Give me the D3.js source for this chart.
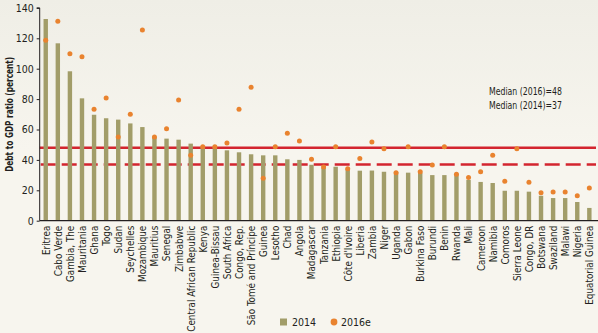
<!DOCTYPE html>
<html>
<head>
<meta charset="utf-8">
<script src="https://cdn.jsdelivr.net/npm/d3@7"></script>
<style>
  html, body { margin: 0; padding: 0; background: #f6f4ed; }
  svg { display: block; }
  text { font-family: "Liberation Sans Narrow", "DejaVu Sans Condensed", "Roboto", sans-serif; fill: #231f20; }
</style>
</head>
<body>
<svg id="chart" width="598" height="333"></svg>
<script>
// Sub-Saharan Africa: public debt to GDP, 2014 vs 2016 estimate
const countries = [
  "Eritrea", "Cabo Verde", "Gambia, The", "Mauritania", "Ghana", "Togo", "Sudan",
  "Seychelles", "Mozambique", "Mauritius", "Senegal", "Zimbabwe",
  "Central African Republic", "Kenya", "Guinea-Bissau", "South Africa", "Congo, Rep.",
  "São Tomé and Príncipe", "Guinea", "Lesotho", "Chad", "Angola", "Madagascar",
  "Tanzania", "Ethiopia", "Côte d'Ivoire", "Liberia", "Zambia", "Niger", "Uganda",
  "Gabon", "Burkina Faso", "Burundi", "Benin", "Rwanda", "Mali", "Cameroon",
  "Namibia", "Comoros", "Sierra Leone", "Congo, DR", "Botswana", "Swaziland",
  "Malawi", "Nigeria", "Equatorial Guinea"
];
const debt2014 = [
  132.7, 116.7, 98.3, 80.5, 69.7, 67.4, 66.5, 64.0, 61.6, 55.0, 54.0, 53.3,
  50.7, 48.7, 48.5, 46.3, 45.0, 43.7, 43.0, 43.0, 40.4, 40.0, 36.8,
  34.9, 35.5, 34.2, 32.9, 33.0, 32.2, 32.0,
  31.6, 31.6, 30.0, 30.0, 30.0, 26.8, 25.5,
  24.8, 19.7, 19.7, 19.1, 16.4, 14.9,
  14.9, 12.3, 8.4
];
const debt2016 = [
  118.7, 131.2, 109.9, 107.9, 73.3, 80.7, 55.0, 70.0, 125.5, 55.0, 60.5, 79.4,
  43.0, 48.7, 48.7, 51.1, 73.3, 87.8, 27.9, 48.7, 57.5, 52.4, 40.4,
  35.3, 48.7, 34.2, 41.0, 51.8, 47.4, 31.6,
  48.7, 32.2, 36.6, 48.7, 30.5, 28.5, 32.2,
  43.0, 25.9, 47.4, 25.3, 18.4, 18.9,
  18.9, 16.4, 21.5
];
const medianLabels = ["Median (2016)", "Median (2014)"];
const medianValues = [48, 37];
const yTicks = [0, 20, 40, 60, 80, 100, 120, 140];
const seriesNames = ["2014", "2016e"];

const colors = { bar: "#a29d69", dot: "#e9832f", median: "#d3252f", axis: "#231f20" };

const svg = d3.select("#chart");
const W = 598, H = 333;

// soft background wash
const defs = svg.append("defs");
const grad = defs.append("linearGradient").attr("id", "bg").attr("x1", 0).attr("y1", 0).attr("x2", 0).attr("y2", 1);
grad.append("stop").attr("offset", "0%").attr("stop-color", "#efeee6");
grad.append("stop").attr("offset", "45%").attr("stop-color", "#f7f5ee");
grad.append("stop").attr("offset", "100%").attr("stop-color", "#f7f5ee");
svg.append("rect").attr("width", W).attr("height", H).attr("fill", "url(#bg)");

const x0 = 39.7, plotRight = 598;
const x = d3.scalePoint().domain(countries).range([x0, x0 + countries.length * 12.08]).padding(0.5);
const y = d3.scaleLinear().domain([0, 140]).range([220.7, 7.9]);

// median reference lines
const medianG = svg.append("g");
medianG.append("line")
  .attr("x1", x0).attr("x2", plotRight - 2)
  .attr("y1", y(medianValues[0])).attr("y2", y(medianValues[0]))
  .attr("stroke", colors.median).attr("stroke-width", 2.4);
medianG.append("line")
  .attr("x1", x0 + 1).attr("x2", plotRight - 2)
  .attr("y1", y(medianValues[1])).attr("y2", y(medianValues[1]))
  .attr("stroke", colors.median).attr("stroke-width", 2.4)
  .attr("stroke-dasharray", "15,6");

// 2014 bars
const bw = 4.4;
svg.append("g").selectAll("rect").data(countries).join("rect")
  .attr("x", d => x(d) - bw / 2)
  .attr("y", (d, i) => y(debt2014[i]))
  .attr("width", bw)
  .attr("height", (d, i) => y(0) - y(debt2014[i]))
  .attr("fill", colors.bar);

// 2016 estimates
svg.append("g").selectAll("circle").data(countries).join("circle")
  .attr("cx", d => x(d))
  .attr("cy", (d, i) => y(debt2016[i]))
  .attr("r", 2.5)
  .attr("fill", colors.dot);

// y axis
const yAxis = d3.axisLeft(y).tickValues(yTicks).tickSize(3).tickPadding(3).tickFormat(d3.format("d"));
const yg = svg.append("g").attr("transform", `translate(${x0},0)`).call(yAxis);
yg.select(".domain").attr("stroke", colors.axis).attr("d", `M-3,${y(140)}H0V${y(0)}`);
yg.selectAll(".tick line").attr("stroke", colors.axis);
yg.selectAll(".tick text").attr("font-size", 10.5).attr("fill", colors.axis);

// x axis with rotated country names
const xAxis = d3.axisBottom(x).tickSize(0).tickPadding(5);
const xg = svg.append("g").attr("transform", `translate(0,${y(0)})`).call(xAxis);
xg.select(".domain").attr("stroke", colors.axis).attr("stroke-width", 1.2).attr("d", `M${x0},0H${plotRight}`);
xg.selectAll(".tick text")
  .attr("font-size", 9.8)
  .attr("fill", colors.axis)
  .attr("text-anchor", "end")
  .attr("transform", "rotate(-90)")
  .attr("x", -5)
  .attr("y", 0)
  .attr("dy", "0.35em");

// y axis title
svg.append("text")
  .attr("transform", `translate(13,${y(70)}) rotate(-90)`)
  .attr("text-anchor", "middle")
  .attr("font-size", 10.5)
  .attr("font-weight", "bold")
  .attr("textLength", 115)
  .attr("lengthAdjust", "spacingAndGlyphs")
  .text("Debt to GDP ratio (percent)");

// median annotation
const ann = svg.append("g").attr("transform", "translate(489,0)");
medianLabels.forEach((lab, i) => {
  ann.append("text")
    .attr("x", 0).attr("y", 94.5 + i * 14.3)
    .attr("font-size", 11)
    .attr("textLength", 73)
    .attr("lengthAdjust", "spacingAndGlyphs")
    .text(`${lab}=${medianValues[i]}`);
});

// legend
const lg = svg.append("g").attr("transform", "translate(0,322)");
lg.append("rect").attr("x", 280).attr("y", -3.5).attr("width", 7).attr("height", 7).attr("fill", colors.bar);
lg.append("text").attr("x", 292).attr("y", 0).attr("dy", "0.35em").attr("font-size", 10.5).text(seriesNames[0]);
lg.append("circle").attr("cx", 334).attr("cy", 0).attr("r", 3.4).attr("fill", colors.dot);
lg.append("text").attr("x", 341).attr("y", 0).attr("dy", "0.35em").attr("font-size", 10.5).text(seriesNames[1]);
</script>
</body>
</html>
